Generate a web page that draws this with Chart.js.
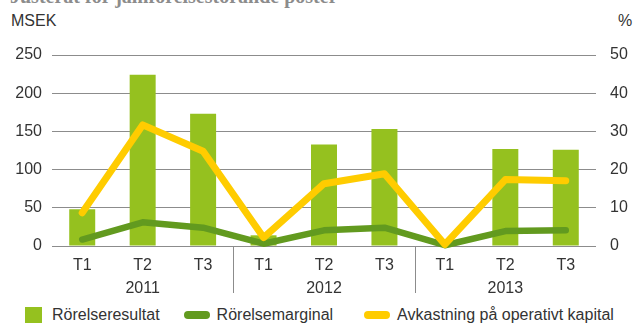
<!DOCTYPE html>
<html lang="sv">
<head>
<meta charset="utf-8">
<script src="https://cdn.jsdelivr.net/npm/chart.js@4.4.1/dist/chart.umd.min.js"></script>
<style>
  html, body { margin: 0; padding: 0; background: #fff; }
  #wrap {
    position: relative; width: 633px; height: 325px; overflow: hidden;
    font-family: 'Liberation Sans', Arial, sans-serif; color: #333;
  }
  #heading {
    position: absolute; left: 10px; top: -14px; white-space: nowrap;
    font: bold 20px/20px 'Liberation Serif', serif; color: #8c8c8c;
  }
  .unit { position: absolute; top: 13px; font-size: 16px; line-height: 16px; }
  #chartBox { position: absolute; left: 0; top: 0; width: 633px; height: 300px; }
  #legend {
    position: absolute; left: 25px; top: 306px; height: 17px;
    display: flex; align-items: center; font-size: 16px; white-space: nowrap;
  }
  .item { display: flex; align-items: center; margin-right: 24px; }
  .item:nth-child(2) { margin-right: 31px; }
  .box { width: 17px; height: 16px; margin-right: 10px; }
  .pill { width: 26px; height: 8px; border-radius: 4px; margin-right: 7px; }
</style>
</head>
<body>
<div id="wrap">
  <div id="heading">Justerat för jämförelsestörande poster</div>
  <div class="unit" style="left:11px">MSEK</div>
  <div class="unit" style="left:618px">%</div>
  <div id="chartBox"><canvas id="resultChart" width="633" height="300"></canvas></div>
  <div id="legend"></div>
</div>
<script>
// Quarters per year
const years = ['2011', '2012', '2013'];
const quarters = ['T1', 'T2', 'T3'];

// Rörelseresultat, MSEK (left axis)
const rorelseresultat = [48, 224, 173, 14, 133, 153, 0, 127, 126];
// Rörelsemarginal, % (right axis)
const rorelsemarginal = [1.7, 6.2, 4.8, 0.6, 4.1, 4.8, 0.2, 3.9, 4.1];
// Avkastning på operativt kapital, % (right axis)
const avkastning = [8.7, 31.7, 24.8, 2.2, 16.3, 18.9, 0.4, 17.4, 17.1];

// Axis ranges
const msekMax = 250, msekStep = 50;
const pctMax = 50, pctStep = 10;

const barGreen = '#95c11f';
const darkGreen = '#629a1f';
const yellow = '#ffcc00';
const gridGray = '#8c8c8c';

// Two-line tick labels: quarter, with the year under the middle quarter
const labels = [];
years.forEach(function(year) {
    quarters.forEach(function(q, qi) {
        labels.push(qi === 1 ? [q, year] : [q, '']);
    });
});

// Vertical dividers between the years, below the axis
const yearDividers = {
    id: 'yearDividers',
    afterDraw: function(chart) {
        const xScale = chart.scales.x;
        const ctx = chart.ctx;
        const bottom = chart.chartArea.bottom;
        ctx.save();
        ctx.strokeStyle = gridGray;
        ctx.lineWidth = 1;
        for (let y = 1; y < years.length; y++) {
            const i = y * quarters.length;
            const px = Math.round((xScale.getPixelForValue(i - 1) + xScale.getPixelForValue(i)) / 2) + 0.5;
            ctx.beginPath();
            ctx.moveTo(px, bottom);
            ctx.lineTo(px, bottom + 47);
            ctx.stroke();
        }
        ctx.restore();
    }
};

Chart.defaults.font.family = "'Liberation Sans', Arial, sans-serif";
Chart.defaults.font.size = 16;
Chart.defaults.color = '#333';

const ctx = document.getElementById('resultChart').getContext('2d');
const chart = new Chart(ctx, {
    type: 'bar',
    data: {
        labels: labels,
        datasets: [
            {
                type: 'line',
                label: 'Avkastning på operativt kapital',
                data: avkastning,
                yAxisID: 'y1',
                borderColor: yellow,
                backgroundColor: yellow,
                borderWidth: 7,
                borderCapStyle: 'round',
                borderJoinStyle: 'round',
                pointRadius: 0,
                tension: 0,
                clip: false,
                order: 0
            },
            {
                type: 'line',
                label: 'Rörelsemarginal',
                data: rorelsemarginal,
                yAxisID: 'y1',
                borderColor: darkGreen,
                backgroundColor: darkGreen,
                borderWidth: 6.5,
                borderCapStyle: 'round',
                borderJoinStyle: 'round',
                pointRadius: 0,
                tension: 0,
                clip: false,
                order: 1
            },
            {
                label: 'Rörelseresultat',
                data: rorelseresultat,
                yAxisID: 'y',
                backgroundColor: barGreen,
                categoryPercentage: 1,
                barPercentage: 0.43,
                order: 2
            }
        ]
    },
    options: {
        responsive: false,
        animation: false,
        layout: { padding: { top: 55, left: 0, right: 0, bottom: 0 } },
        plugins: {
            legend: { display: false },
            tooltip: { enabled: false }
        },
        scales: {
            x: {
                grid: { display: false },
                border: { display: false },
                ticks: {
                    autoSkip: false,
                    maxRotation: 0,
                    padding: 0,
                    font: { size: 16, lineHeight: 23 / 16 }
                },
                afterFit: function(scale) { scale.height = 54; }
            },
            y: {
                position: 'left',
                min: 0,
                max: msekMax,
                grid: { color: gridGray, drawTicks: false },
                border: { display: false },
                ticks: { stepSize: msekStep, padding: 10 },
                afterFit: function(scale) { scale.width = 52; }
            },
            y1: {
                position: 'right',
                min: 0,
                max: pctMax,
                grid: { display: false, drawTicks: false },
                border: { display: false },
                ticks: { stepSize: pctStep, padding: 14 },
                afterFit: function(scale) { scale.width = 37; }
            }
        }
    },
    plugins: [yearDividers]
});

// Legend in the same order as the series are read: bars first
const legendEl = document.getElementById('legend');
[chart.data.datasets[2], chart.data.datasets[1], chart.data.datasets[0]].forEach(function(ds) {
    const item = document.createElement('div');
    item.className = 'item';
    const swatch = document.createElement('span');
    swatch.className = ds.type === 'line' ? 'pill' : 'box';
    swatch.style.background = ds.type === 'line' ? ds.borderColor : ds.backgroundColor;
    const text = document.createElement('span');
    text.textContent = ds.label;
    item.appendChild(swatch);
    item.appendChild(text);
    legendEl.appendChild(item);
});
</script>
</body>
</html>
